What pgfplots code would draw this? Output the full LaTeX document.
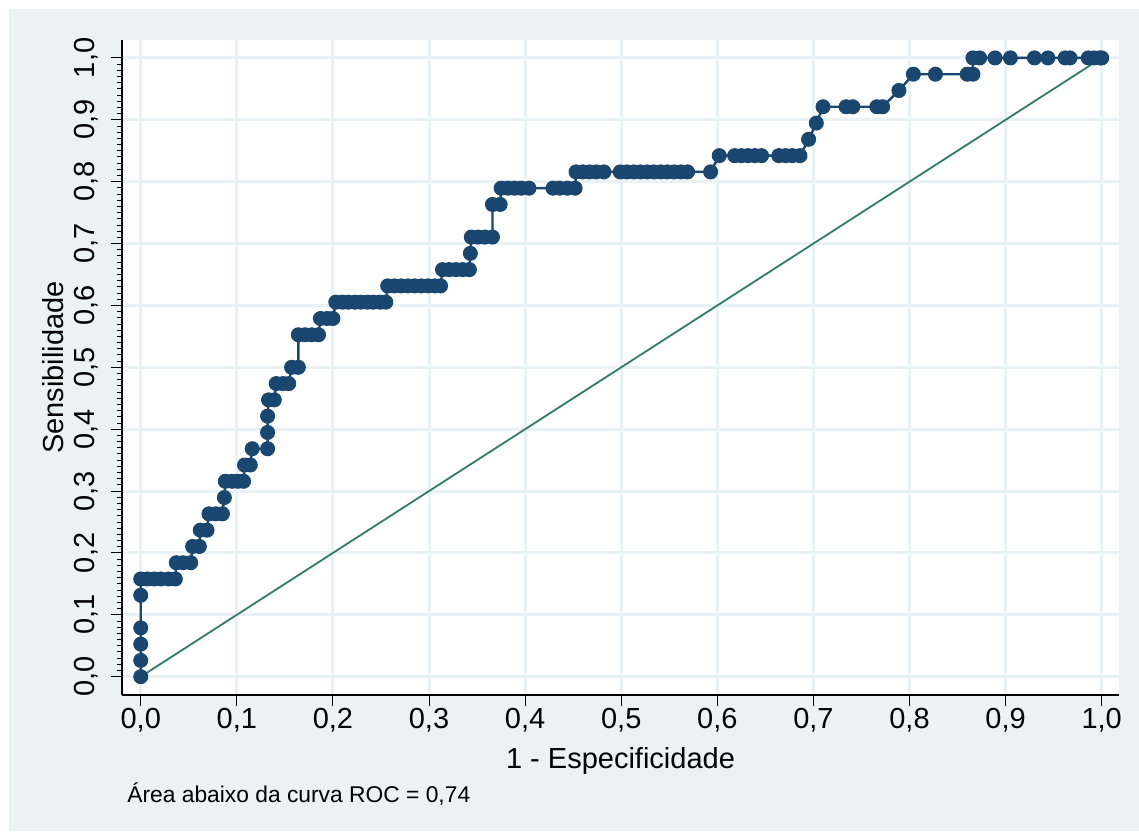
\documentclass[border=0pt]{standalone}
\usepackage{pgfplots}
\pgfplotsset{compat=1.18}
\usepackage{fontspec}
\setmainfont{Liberation Sans}
\definecolor{bgc}{RGB}{234,242,243}
\definecolor{gridc}{RGB}{232,241,243}
\definecolor{navyc}{RGB}{26,71,111}
\definecolor{refc}{RGB}{46,125,105}
\begin{document}
\begin{tikzpicture}
\path[use as bounding box] (0,0) rectangle (569.5pt,415.5pt);
\fill[bgc] (4.5pt,0) rectangle (569.5pt,411pt);
\begin{axis}[
 at={(61pt,68pt)}, anchor=south west,
 scale only axis, width=498.5pt, height=327.5pt,
 xmin=-0.0195, xmax=1.018, ymin=-0.0296, ymax=1.029,
 axis x line*=bottom, axis y line*=left,
 axis line style={black, line width=0.6pt},
 axis background/.style={fill=white},
 xtick={0,0.1,0.2,0.3,0.4,0.5,0.6,0.7,0.8,0.9,1},
 ytick={0,0.1,0.2,0.3,0.4,0.5,0.6,0.7,0.8,0.9,1},
 minor y tick num=9,
 tick align=outside,
 major tick length=5.5pt, minor tick length=2.5pt,
 tick style={black, line width=0.5pt},
 grid=major,
 major grid style={gridc, line width=1.5pt},
 /pgf/number format/use comma,
 /pgf/number format/fixed,
 /pgf/number format/fixed zerofill,
 /pgf/number format/precision=1,
 /pgf/number format/assume math mode=true,
 xticklabel style={anchor=north, inner sep=0pt, font=\fontsize{14.5}{17}\selectfont},
 xticklabel shift=1pt,
 yticklabel style={rotate=90, anchor=south, inner sep=0pt, font=\fontsize{14.5}{17}\selectfont},
 yticklabel shift=6pt,
 xlabel={1 - Especificidade},
 xlabel style={at={(axis description cs:0.5,-0.101)}, anchor=center, font=\fontsize{14.5}{17}\selectfont},
 ylabel={Sensibilidade},
 ylabel style={at={(axis description cs:-0.0695,0.5)}, anchor=center, font=\fontsize{14.5}{17}\selectfont},
]
\addplot[navyc, line width=1.2pt, mark=*, mark size=3.5pt, mark options={fill=navyc, draw=navyc, line width=0.5pt}] coordinates {
(0,0)(0,0.0263)(0,0.0526)(0,0.0789)(0,0.1316)(0,0.1579)
(0.007,0.1579)(0.014,0.1579)(0.021,0.1579)(0.029,0.1579)(0.036,0.1579)
(0.037,0.1842)(0.044,0.1842)(0.052,0.1842)
(0.054,0.2105)(0.061,0.2105)
(0.062,0.2368)(0.069,0.2368)
(0.071,0.2632)(0.078,0.2632)(0.085,0.2632)
(0.087,0.2895)
(0.088,0.3158)(0.095,0.3158)(0.101,0.3158)(0.107,0.3158)
(0.108,0.3421)(0.114,0.3421)
(0.116,0.3684)(0.132,0.3684)
(0.132,0.3947)(0.132,0.4211)
(0.133,0.4474)(0.139,0.4474)
(0.141,0.4737)(0.148,0.4737)(0.154,0.4737)
(0.157,0.5)(0.164,0.5)
(0.164,0.5526)(0.171,0.5526)(0.178,0.5526)(0.185,0.5526)
(0.187,0.5789)(0.194,0.5789)(0.200,0.5789)
(0.203,0.6053)(0.210,0.6053)(0.216,0.6053)(0.223,0.6053)(0.229,0.6053)(0.236,0.6053)(0.242,0.6053)(0.249,0.6053)(0.255,0.6053)
(0.257,0.6316)(0.264,0.6316)(0.271,0.6316)(0.278,0.6316)(0.285,0.6316)(0.292,0.6316)(0.299,0.6316)(0.306,0.6316)(0.312,0.6316)
(0.314,0.6579)(0.321,0.6579)(0.328,0.6579)(0.335,0.6579)(0.342,0.6579)
(0.343,0.6842)
(0.344,0.7105)(0.351,0.7105)(0.358,0.7105)(0.366,0.7105)
(0.366,0.7632)(0.374,0.7632)
(0.375,0.7895)(0.382,0.7895)(0.389,0.7895)(0.396,0.7895)(0.404,0.7895)
(0.429,0.7895)(0.436,0.7895)(0.444,0.7895)(0.452,0.7895)
(0.453,0.8158)(0.460,0.8158)(0.467,0.8158)(0.474,0.8158)(0.482,0.8158)
(0.499,0.8158)(0.506,0.8158)(0.513,0.8158)(0.520,0.8158)(0.527,0.8158)(0.534,0.8158)(0.541,0.8158)(0.548,0.8158)(0.555,0.8158)(0.562,0.8158)(0.569,0.8158)
(0.593,0.8158)
(0.602,0.8421)
(0.618,0.8421)(0.625,0.8421)(0.632,0.8421)(0.639,0.8421)(0.646,0.8421)
(0.664,0.8421)(0.671,0.8421)(0.678,0.8421)(0.686,0.8421)
(0.695,0.8684)
(0.703,0.8947)
(0.710,0.9211)(0.734,0.9211)(0.741,0.9211)(0.766,0.9211)(0.772,0.9211)
(0.789,0.9474)
(0.804,0.9737)(0.827,0.9737)(0.860,0.9737)(0.866,0.9737)
(0.866,1)(0.873,1)(0.889,1)(0.905,1)(0.930,1)(0.944,1)(0.962,1)(0.967,1)(0.986,1)(0.992,1)(0.998,1)(1,1)
};
\addplot[refc, line width=0.9pt] coordinates {(0,0)(1,1)};
\end{axis}
\node[anchor=base west, inner sep=0pt, font=\fontsize{11.4}{13}\selectfont] at (63.5pt,14.5pt) {Área abaixo da curva ROC = 0,74};
\end{tikzpicture}
\end{document}
